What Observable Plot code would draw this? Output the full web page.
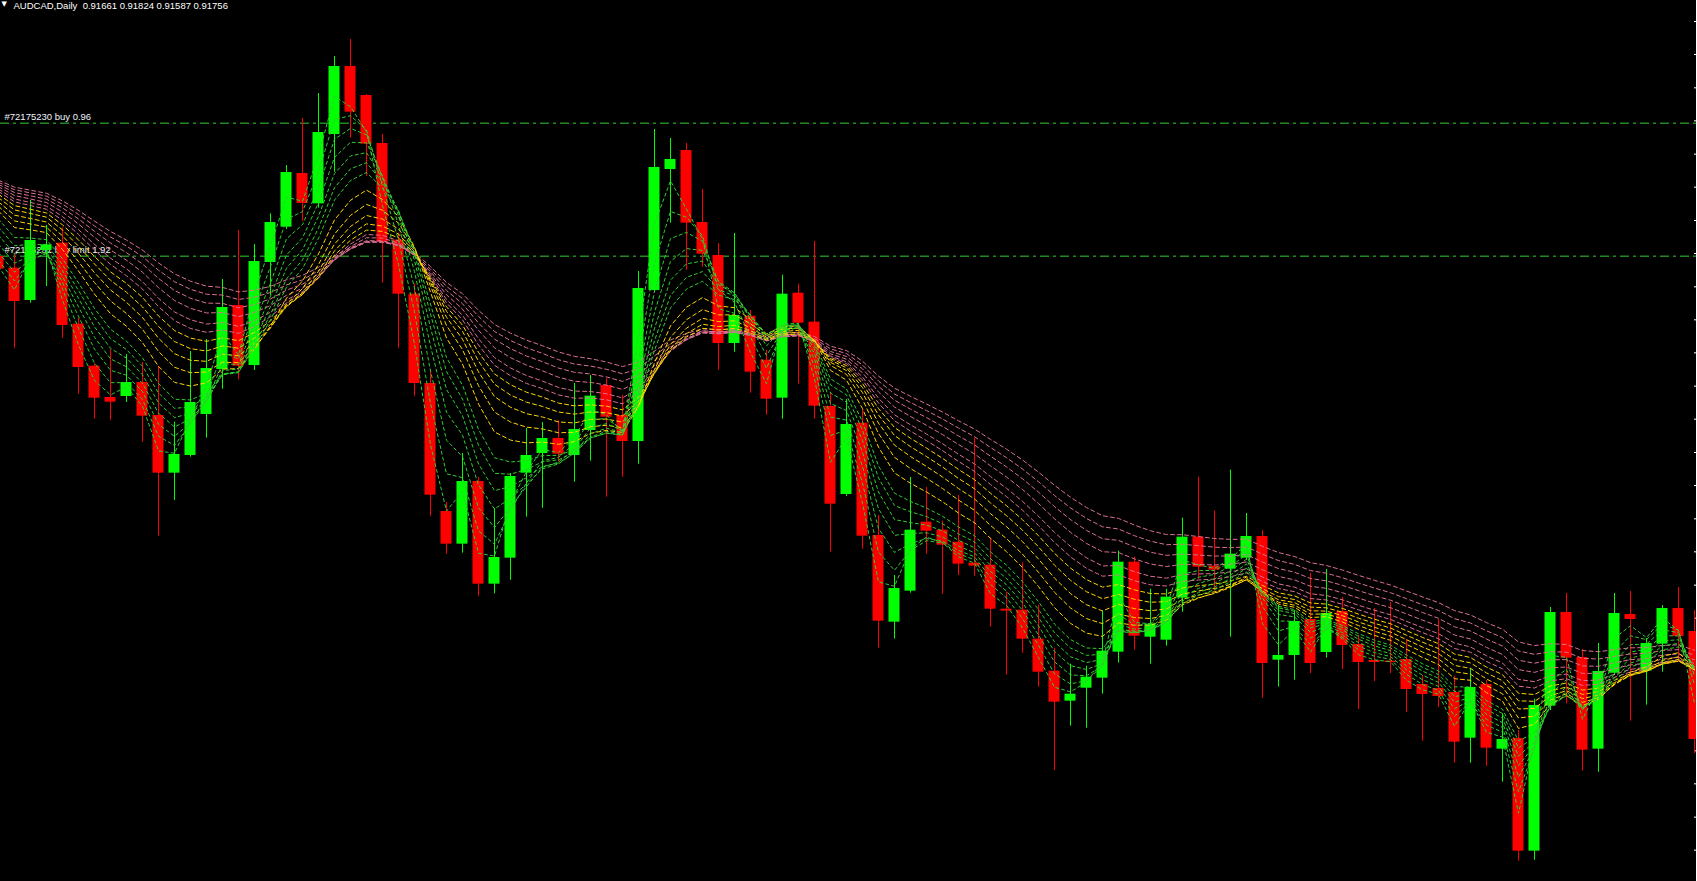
<!DOCTYPE html>
<html>
<head>
<meta charset="utf-8">
<script src="https://cdn.jsdelivr.net/npm/d3@7"></script>
<script src="https://cdn.jsdelivr.net/npm/@observablehq/plot@0.6"></script>
<style>
html, body { margin: 0; padding: 0; background: #000; overflow: hidden; }
#chart svg { display: block; }
</style>
</head>
<body>
<div id="chart"></div>
<script>
// AUDCAD daily candles (bar index -1 .. 105, left to right)
const opens = [
0.93295,0.93260,0.93163,0.93313,0.93335,0.93092,0.92966,0.92872,0.92875,0.92917,0.92818,
0.92645,0.92698,0.92821,0.92956,0.93148,0.92968,0.93277,0.93383,0.93544,0.93453,
0.93661,0.93865,0.93778,0.93634,0.93344,0.93182,0.92914,0.92530,0.92432,0.92620,
0.92312,0.92390,0.92645,0.92704,0.92749,0.92698,0.92773,0.92908,0.92818,0.92740,
0.93193,0.93556,0.93613,0.93397,0.93298,0.93034,0.93116,0.92984,0.92870,0.93185,
0.93098,0.92845,0.92581,0.92795,0.92458,0.92198,0.92291,0.92498,0.92474,0.92438,
0.92375,0.92369,0.92237,0.92234,0.92147,0.92051,0.91961,0.92000,0.92030,0.92108,
0.92378,0.92153,0.92144,0.92270,0.92453,0.92366,0.92357,0.92390,0.92455,0.92084,
0.92098,0.92206,0.92107,0.92230,0.92131,0.92083,0.92081,0.92086,0.92011,0.91999,
0.91987,0.91850,0.92011,0.91817,0.91849,0.91511,0.91946,0.92227,0.92092,0.91817,
0.92045,0.92221,0.92051,0.92132,0.92239,0.92170];
const highs = [
0.93307,0.93305,0.93463,0.93388,0.93381,0.93109,0.92973,0.93015,0.93001,0.92977,0.92965,
0.92798,0.93010,0.93046,0.93226,0.93373,0.93331,0.93423,0.93568,0.93709,0.93784,
0.93895,0.93946,0.93781,0.93661,0.93365,0.93213,0.92956,0.92557,0.92704,0.92632,
0.92539,0.92644,0.92779,0.92797,0.92803,0.92914,0.92938,0.92929,0.92878,0.93250,
0.93676,0.93649,0.93634,0.93496,0.93334,0.93364,0.93133,0.93013,0.93239,0.93212,
0.93340,0.92887,0.92866,0.92836,0.92518,0.92338,0.92632,0.92602,0.92501,0.92578,
0.92750,0.92450,0.92288,0.92376,0.92249,0.92120,0.92072,0.92066,0.92231,0.92411,
0.92393,0.92297,0.92297,0.92510,0.92633,0.92531,0.92654,0.92524,0.92473,0.92248,
0.92233,0.92344,0.92356,0.92272,0.92158,0.92239,0.92257,0.92146,0.92038,0.92206,
0.92035,0.92059,0.92023,0.91923,0.91873,0.91967,0.92242,0.92284,0.92116,0.92134,
0.92284,0.92290,0.92149,0.92248,0.92302,0.92233];
const lows = [
0.93247,0.93020,0.93155,0.93205,0.93050,0.92882,0.92807,0.92804,0.92857,0.92738,0.92456,
0.92563,0.92693,0.92750,0.92897,0.92925,0.92953,0.93178,0.93376,0.93400,0.93440,
0.93548,0.93650,0.93536,0.93215,0.93020,0.92876,0.92516,0.92402,0.92405,0.92276,
0.92283,0.92324,0.92513,0.92540,0.92678,0.92618,0.92681,0.92573,0.92633,0.92672,
0.93187,0.93395,0.93254,0.93263,0.92954,0.93008,0.92885,0.92819,0.92807,0.92912,
0.92807,0.92408,0.92575,0.92417,0.92120,0.92147,0.92285,0.92402,0.92282,0.92338,
0.92336,0.92183,0.92039,0.92105,0.92003,0.91753,0.91886,0.91880,0.91982,0.92075,
0.92114,0.92072,0.92126,0.92228,0.92327,0.92291,0.92153,0.92383,0.91970,0.92003,
0.92024,0.92044,0.92090,0.92056,0.91936,0.92020,0.92044,0.91927,0.91841,0.91942,
0.91775,0.91775,0.91766,0.91718,0.91481,0.91484,0.91933,0.91953,0.91751,0.91748,
0.92038,0.91901,0.91949,0.92048,0.92083,0.91804];
const closes = [
0.93257,0.93160,0.93343,0.93330,0.93088,0.92962,0.92870,0.92858,0.92917,0.92816,0.92645,
0.92701,0.92857,0.92959,0.93142,0.92966,0.93280,0.93397,0.93547,0.93454,0.93667,
0.93865,0.93728,0.93632,0.93338,0.93182,0.92914,0.92579,0.92432,0.92620,0.92312,
0.92392,0.92635,0.92698,0.92749,0.92702,0.92776,0.92876,0.92813,0.92740,0.93199,
0.93562,0.93586,0.93395,0.93302,0.93034,0.93118,0.92948,0.92867,0.93182,0.93095,
0.92846,0.92552,0.92791,0.92456,0.92201,0.92299,0.92474,0.92471,0.92429,0.92372,
0.92366,0.92237,0.92231,0.92147,0.92048,0.91958,0.91982,0.92033,0.92111,0.92378,
0.92156,0.92192,0.92273,0.92453,0.92363,0.92354,0.92402,0.92455,0.92074,0.92098,
0.92200,0.92074,0.92224,0.92128,0.92077,0.92077,0.92077,0.91996,0.91981,0.91975,
0.91838,0.92002,0.91820,0.91846,0.91511,0.91948,0.92227,0.92090,0.91814,0.92050,
0.92224,0.92206,0.92134,0.92239,0.92155,0.91846];

// Moving-average ribbon: EMA periods and their values just before the first visible bar
const greenPeriods = [2, 3, 4, 5, 6, 7, 8];
const greenSeeds   = [0.93280, 0.93310, 0.93340, 0.93370, 0.93400, 0.93425, 0.93450];
const goldPeriods  = [10, 12, 14, 16, 18];
const goldSeeds    = [0.93470, 0.93480, 0.93490, 0.93500, 0.93508];
const pinkPeriods  = [20, 22, 25, 28, 31, 34];
const pinkSeeds    = [0.93515, 0.93520, 0.93525, 0.93530, 0.93535, 0.93540];

// Open orders
const orderPrices = [0.93695, 0.93296];
const orderLabels = ["#72175230 buy 0.96", "#72175231 buy limit 1.92"];

// Price-scale tick values (labels are off-screen)
const priceTicks = [0.94000,0.93901,0.93801,0.93702,0.93602,0.93503,0.93403,0.93304,0.93204,0.93105,
0.93006,0.92906,0.92807,0.92707,0.92608,0.92508,0.92409,0.92309,0.92210,0.92110,
0.92011,0.91912,0.91812,0.91713,0.91613,0.91514];

const titleText = "AUDCAD,Daily  0.91661 0.91824 0.91587 0.91756";

const bars = opens.map((o, i) => ({
  k: i - 1, open: o, high: highs[i], low: lows[i], close: closes[i],
  up: closes[i] > o
}));

function ema(period, seed, id) {
  const a = 2 / (period + 1);
  let e = seed;
  return closes.map((c, i) => { e += a * (c - e); return {k: i - 1, v: e, id}; });
}
const greenLines = greenPeriods.flatMap((p, i) => ema(p, greenSeeds[i], "g" + p));
const goldLines  = goldPeriods.flatMap((p, i) => ema(p, goldSeeds[i], "y" + p));
const pinkLines  = pinkPeriods.flatMap((p, i) => ema(p, pinkSeeds[i], "p" + p));

const orders = orderPrices.map((p, i) => ({price: p, label: orderLabels[i]}));

const UP = "#00FF00", DOWN = "#FF0000";
const FONT = "'Liberation Sans', Arial, sans-serif";

const chart = Plot.plot({
  width: 1697,
  height: 881,
  marginTop: 0, marginBottom: 0, marginLeft: 0, marginRight: 1,
  style: {background: "#000", color: "#fff", fontFamily: FONT},
  x: {domain: [-0.875, 105.125], axis: null},
  y: {domain: [0.9142, 0.94063], axis: null},
  marks: [
    Plot.text(orders, {y: "price", text: "label", frameAnchor: "left", dx: 4, dy: -3,
      textAnchor: "start", lineAnchor: "bottom", fill: "#f0f4ff", fontSize: 9.5}),
    Plot.ruleY(orders, {y: "price", stroke: "#32CD32", strokeDasharray: "9,4,3,4", strokeWidth: 1}),
    Plot.axisY(priceTicks, {anchor: "right", tickSize: -3, tickFormat: () => "", stroke: "#fff"}),
    Plot.frame({anchor: "right", stroke: "#fff"}),
    Plot.ruleX(bars, {x: "k", y1: "low", y2: "high", stroke: d => d.up ? UP : DOWN, clip: true}),
    Plot.rect(bars, {x1: d => d.k - 0.5, x2: d => d.k + 0.5, y1: "open", y2: "close",
      insetLeft: 2.5, insetRight: 2.5, fill: d => d.up ? UP : DOWN, clip: true}),
    Plot.line(pinkLines, {x: "k", y: "v", z: "id", stroke: "#DB7093", strokeWidth: 1, strokeDasharray: "4,3", clip: true}),
    Plot.line(goldLines, {x: "k", y: "v", z: "id", stroke: "#FFD700", strokeWidth: 1, strokeDasharray: "4,3", clip: true}),
    Plot.line(greenLines, {x: "k", y: "v", z: "id", stroke: "#32CD32", strokeWidth: 1, strokeDasharray: "3,3", clip: true}),
    Plot.text(["▼"], {frameAnchor: "top-left", dx: 1, dy: 1, fontSize: 7, fill: "#fff",
      textAnchor: "start", lineAnchor: "top", fontFamily: "DejaVu Sans"}),
    Plot.text([titleText], {frameAnchor: "top-left", dx: 13, dy: 2, fontSize: 9.5, fill: "#fff",
      textAnchor: "start", lineAnchor: "top"})
  ]
});
document.getElementById("chart").appendChild(chart);
</script>
</body>
</html>
